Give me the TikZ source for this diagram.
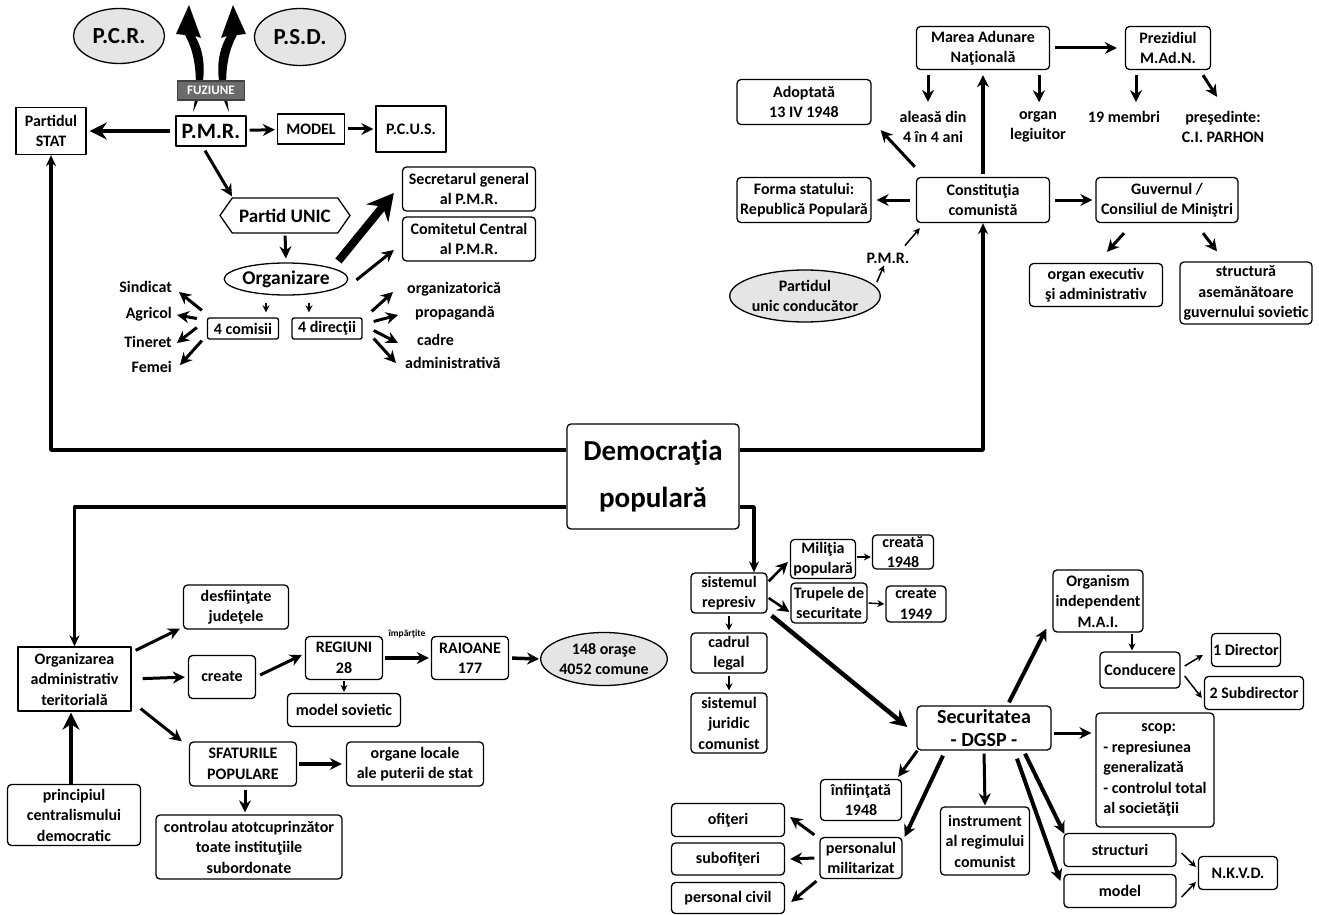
\documentclass[tikz,border=0pt]{standalone}
\usepackage{fontspec}
\setmainfont{Carlito}
\usetikzlibrary{arrows.meta,calc,shapes.geometric,shapes.symbols}
\tikzset{
  lbl/.style={font=\bfseries\fontsize{16}{20.5}\selectfont,align=center,inner sep=1pt},
  box/.style={lbl,draw,line width=1.3pt},
  rbox/.style={box,rounded corners=4pt},
  oval/.style={lbl,draw,ellipse,line width=1.3pt,fill=gray!20,inner sep=0pt},
  sz/.style 2 args={minimum width=#1pt,minimum height=#2pt},
  arr/.style={line width=3pt,-{Stealth[length=12pt,width=12pt]}},
  sarr/.style={line width=1.5pt,-{Stealth[length=7pt,width=7pt]}},
  barr/.style={line width=4.5pt,-{Stealth[length=17pt,width=17pt]}},
  harr/.style={line width=8pt,-{Stealth[length=26pt,width=28pt]}},
  trunk/.style={line width=3.5pt,-{Stealth[length=11pt,width=10pt]}},
}
\begin{document}
\begin{tikzpicture}[x=1pt,y=-1pt,line join=round]
\useasboundingbox (0,0) rectangle (1319,915);

% --- partidul unic
\node[oval,sz={91}{55},font=\bfseries\fontsize{23}{26}\selectfont] (pcr) at (119,36) {P.C.R.};
\node[oval,sz={91}{57},font=\bfseries\fontsize{23}{26}\selectfont] (psd) at (300,37) {P.S.D.};
\fill (193,112) .. controls (207,84) and (207,56) .. (195,36) -- (201,38) -- (189,5) -- (176,34) -- (185,35) .. controls (197,56) and (198,84) .. (193,112) -- cycle;
\fill (229,112) .. controls (215,84) and (215,56) .. (227,36) -- (221,38) -- (233,5) -- (246,34) -- (237,35) .. controls (225,56) and (224,84) .. (229,112) -- cycle;
\node[box,sz={67}{19},fill=black!58,draw=black!75,text=white,font=\bfseries\fontsize{13}{15}\selectfont] (fuz) at (211,90.5) {FUZIUNE};
\node[box,sz={70}{47}] (stat) at (51,131) {Partidul\\STAT};
\node[box,sz={70}{30},font=\bfseries\fontsize{22}{24}\selectfont] (pmr) at (211,131) {P.M.R.};
\node[box,sz={67}{30}] (model) at (311,129) {MODEL};
\node[box,sz={70}{46}] (pcus) at (411,129) {P.C.U.S.};
\node[lbl,draw,line width=1.3pt,signal,signal to=west and east,signal pointer angle=110,sz={130}{35},font=\bfseries\fontsize{19}{22}\selectfont] (unic) at (285,215.5) {Partid UNIC};
\node[lbl,draw,ellipse,line width=1.3pt,inner sep=0pt,sz={120}{32},font=\bfseries\fontsize{19.5}{22}\selectfont] (orgz) at (286,279) {Organizare};
\node[rbox,sz={133}{44}] (secg) at (469,189) {Secretarul general\\al P.M.R.};
\node[rbox,sz={133}{44}] (cc) at (469,239) {Comitetul Central\\al P.M.R.};
\node[box,rounded corners=2pt,sz={71}{21}] (com) at (243,328.5) {4 comisii};
\node[box,rounded corners=2pt,sz={70}{21}] (dir) at (327,328.5) {4 direcţii};
\foreach \t/\y in {Sindicat/287,Agricol/314,Tineret/342,Femei/367}
  \node[lbl,anchor=east] (\t) at (173,\y) {\t};
\foreach \n/\t/\x/\y in {d1/organizatorică/406/289,d2/propagandă/414/313,d3/cadre/416/340,d4/administrativă/404/363}
  \node[lbl,anchor=west] (\n) at (\x,\y) {\t};

\draw[barr,shorten <=5pt,shorten >=3pt] (pmr.west) -- (stat.east);
\draw[arr,shorten <=3pt,shorten >=2pt] (pmr) -- (model);
\draw[arr,shorten <=3pt,shorten >=2pt] (model) -- (pcus);
\draw[arr] ($(pmr.south)+(-6,4)$) -- ($(unic.north)+(-53,-1)$);
\draw[arr,shorten <=2pt,shorten >=4pt] (unic.south) -- (orgz.north);
\draw[harr] ($(orgz.east)+(-10,-18)$) -- ($(secg.west)+(-8,4)$);
\draw[arr] ($(orgz.east)+(8,1)$) -- ($(cc.west)+(-8,11)$);
\draw[sarr] ($(orgz.south)+(-20,7)$) -- ($(com.north)+(23,-5)$);
\draw[sarr] ($(orgz.south)+(23,7)$) -- ($(dir.north)+(-18,-5)$);
\draw[arr] ($(com.north west)+(-5,-7)$) -- ($(Sindicat.east)+(6,5)$);
\draw[arr] ($(com.west)+(-10,-10)$) -- ($(Agricol.east)+(4,1)$);
\draw[arr] ($(com.west)+(-10,-1)$) -- ($(Tineret.east)+(4,1)$);
\draw[arr] ($(com.south west)+(-5,1)$) -- ($(Femei.east)+(7,-2)$);
\draw[arr] ($(dir.north east)+(9,-6)$) -- ($(d1.west)+(-13,3)$);
\draw[arr] ($(dir.east)+(11,-7)$) -- ($(d2.west)+(-16,2)$);
\draw[arr] ($(dir.east)+(11,2)$) -- ($(d3.west)+(-18,3)$);
\draw[arr] ($(dir.east)+(11,10)$) -- ($(d4.west)+(-8,0)$);

% --- constitutia
\node[rbox,sz={133}{43}] (man) at (983,48) {Marea Adunare\\Naţională};
\node[rbox,sz={85}{43}] (prez) at (1168,48) {Prezidiul\\M.Ad.N.};
\node[rbox,sz={134}{45}] (adopt) at (804,102) {Adoptată\\13 IV 1948};
\node[lbl] (ales) at (933,127) {aleasă din\\4 în 4 ani};
\node[lbl] (legi) at (1038,127) {organ\\legiuitor};
\node[lbl] (memb) at (1124,117) {19 membri};
\node[lbl] (pres) at (1223,127) {preşedinte:\\C.I. PARHON};
\node[rbox,sz={133}{45}] (const) at (983,200) {Constituţia\\comunistă};
\node[rbox,sz={134}{45}] (forma) at (804,200) {Forma statului:\\Republică Populară};
\node[rbox,sz={142}{45}] (guv) at (1167,200) {Guvernul /\\Consiliul de Miniştri};
\node[rbox,sz={133}{43}] (exec) at (1096,285) {organ executiv\\şi administrativ};
\node[rbox,sz={132}{62}] (struct) at (1246,293) {structură\\asemănătoare\\guvernului sovietic};
\node[oval,sz={134}{52}] (puc) at (805,296) {Partidul\\unic conducător};
\node[lbl] (pmrb) at (888,258) {P.M.R.};

\draw[arr,shorten <=5pt,shorten >=8pt] (man.east) -- (prez.west);
\draw[arr] ($(man.south)+(-55,5)$) -- ($(ales.north)+(-5,-8)$);
\draw[arr] ($(man.south)+(56,5)$) -- ($(legi.north)+(1,-8)$);
\draw[arr] ($(prez.south)+(-32,5)$) -- ($(memb.north)+(12,-8)$);
\draw[arr] ($(prez.south)+(35,5)$) -- ($(pres.north)+(-6,-13)$);
\draw[arr,line width=4pt,shorten <=3pt,shorten >=5pt] (const.north) -- (man.south);
\draw[arr] ($(const.north west)+(-1,-10)$) -- ($(adopt.south east)+(9,5)$);
\draw[arr,shorten <=6pt,shorten >=5pt] (const.west) -- (forma.east);
\draw[arr,shorten <=5pt,shorten >=3pt] (const.east) -- (guv.west);
\draw[arr] ($(guv.south)+(-43,10)$) -- ($(exec.north)+(11,-11)$);
\draw[arr] ($(guv.south)+(36,10)$) -- ($(struct.north)+(-29,-10)$);
\draw[sarr] ($(puc.east)+(-4,-14)$) -- ($(pmrb.south)+(-4,1)$);
\draw[sarr] ($(pmrb.north)+(17,-6)$) -- ($(const.south west)+(4,5)$);

% --- democratia
\node[rbox,sz={172}{105},font=\bfseries\fontsize{29}{47}\selectfont] (dem) at (653,476.5) {Democraţia\\populară};

% --- organizarea administrativ teritoriala
\node[box,sz={113}{64}] (ter) at (74.5,679) {Organizarea\\administrativ\\teritorială};
\node[rbox,sz={133}{61}] (princ) at (74,815) {principiul\\centralismului\\democratic};
\node[rbox,sz={105}{44}] (desf) at (236,607) {desfiinţate\\judeţele};
\node[rbox,sz={67}{43}] (creat) at (222,677) {create};
\node[rbox,sz={77}{43}] (reg) at (344,658) {REGIUNI\\28};
\node[rbox,sz={113}{33}] (msov) at (344,710) {model sovietic};
\node[rbox,sz={77}{43}] (raio) at (470,658) {RAIOANE\\177};
\node[oval,sz={111}{53}] (oras) at (604,659) {148 oraşe\\4052 comune};
\node[lbl,font=\bfseries\fontsize{9.5}{11}\selectfont] (impt) at (407,634) {împărţite};
\node[rbox,sz={107}{44}] (sfat) at (243,764) {SFATURILE\\POPULARE};
\node[rbox,sz={137}{44}] (orgl) at (415,764) {organe locale\\ale puterii de stat};
\node[rbox,sz={186}{64}] (ctrl) at (249,847) {controlau atotcuprinzător\\toate instituţiile\\subordonate};

\draw[barr,shorten >=1pt] ($(princ.north)+(-3,0)$) -- ($(ter.south)+(-3.5,0)$);
\draw[arr] ($(ter.north east)+(4,4)$) -- ($(desf.south west)+(-3,-1)$);
\draw[arr,shorten <=11pt,shorten >=3pt] (ter.east) -- (creat.west);
\draw[arr] ($(ter.south east)+(9,-3)$) -- ($(sfat.north west)+(-7,0)$);
\draw[arr] ($(creat.east)+(4,-2)$) -- ($(reg.west)+(-3,-3)$);
\draw[arr,line width=3.5pt,shorten <=2pt,shorten >=2pt] (reg.east) -- (raio.west);
\draw[arr,line width=3.5pt,shorten <=3pt,shorten >=1pt] (raio.east) -- (oras.west);
\draw[sarr,shorten <=1pt,shorten >=1pt] (reg.south) -- (msov.north);
\draw[arr,line width=3.5pt,shorten <=2pt,shorten >=4pt] (sfat.east) -- (orgl.west);
\draw[arr] ($(sfat.south)+(2,3)$) -- ($(ctrl.north)+(-4,-2)$);

% --- sistemul represiv
\node[rbox,sz={76}{40}] (rep) at (729,593) {sistemul\\represiv};
\node[rbox,sz={65}{39}] (mil) at (823,559) {Miliţia\\populară};
\node[rbox,sz={61}{34}] (cr48) at (903,552) {creată\\1948};
\node[rbox,sz={76}{40}] (trup) at (829,603) {Trupele de\\securitate};
\node[rbox,sz={60}{36}] (cr49) at (916,604) {create\\1949};
\node[rbox,sz={76}{40}] (cadr) at (729,653) {cadrul\\legal};
\node[rbox,sz={76}{60}] (jur) at (729,723) {sistemul\\juridic\\comunist};
\node[rbox,sz={134}{44},font=\bfseries\fontsize{20}{23}\selectfont] (sec) at (984,728) {Securitatea\\- DGSP -};
\node[rbox,sz={90}{62}] (mai) at (1098,601) {Organism\\independent\\M.A.I.};
\node[rbox,sz={80}{36}] (cond) at (1140,670) {Conducere};
\node[rbox,sz={69}{33}] (dir1) at (1246,650) {1 Director};
\node[rbox,sz={99}{33}] (dir2) at (1254,693) {2 Subdirector};
\node[rbox,sz={118}{114},align=left] (scop) at (1155,770) {\hspace*{38pt}scop:\\- represiunea\\generalizată\\- controlul total\\al societăţii};
\node[rbox,sz={81}{41}] (infi) at (861,800) {înfiinţată\\1948};
\node[rbox,sz={82}{41}] (pers) at (861,858) {personalul\\militarizat};
\node[rbox,sz={113}{33}] (ofi) at (728,820) {ofiţeri};
\node[rbox,sz={113}{32}] (subo) at (728,859) {subofiţeri};
\node[rbox,sz={113}{31}] (civ) at (728,898) {personal civil};
\node[rbox,sz={89}{68}] (instr) at (985,841) {instrument\\al regimului\\comunist};
\node[rbox,sz={112}{33}] (struc) at (1120,850) {structuri};
\node[rbox,sz={112}{33}] (modl) at (1120,891) {model};
\node[rbox,sz={79}{33}] (nkvd) at (1238,873) {N.K.V.D.};

\draw[arr,line width=2.5pt] ($(rep.north east)+(1,9)$) -- ($(mil.west)+(-2,3)$);
\draw[arr,line width=2.5pt] ($(rep.east)+(1,5)$) -- ($(trup.west)+(-1,9)$);
\draw[sarr] ($(mil.east)+(1,-2)$) -- ($(cr48.west)+(-1,5)$);
\draw[sarr,shorten <=1pt,shorten >=1pt] (trup.east) -- (cr49.west);
\draw[sarr,line width=2pt,shorten <=2pt,shorten >=2pt] (rep.south) -- (cadr.north);
\draw[sarr,line width=2pt,shorten <=2pt,shorten >=2pt] (cadr.south) -- (jur.north);
\draw[barr] ($(rep.south east)+(4,2)$) -- ($(sec.west)+(-9,-1)$);
\draw[arr,line width=4pt] ($(sec.north)+(25,-3)$) -- ($(mai.south west)+(-6,-4)$);
\draw[sarr,line width=2pt] ($(mai.south)+(34,1)$) -- ($(cond.north)+(-8,-1)$);
\draw[sarr] ($(cond.east)+(4,-4)$) -- ($(dir1.west)+(-8,5)$);
\draw[sarr] ($(cond.east)+(4,6)$) -- ($(dir2.west)+(-2,5)$);
\draw[arr] ($(sec.east)+(2,5)$) -- ($(scop.west)+(-4,-37)$);
\draw[arr] ($(sec.south west)+(1,0)$) -- ($(infi.north east)+(-4,-2)$);
\draw[arr,line width=4pt] ($(sec.south)+(-41,5)$) -- ($(pers.north east)+(2,0)$);
\draw[arr,shorten <=3pt,shorten >=1pt] (sec.south) -- (instr.north);
\draw[arr,line width=4pt] ($(sec.south)+(41,3)$) -- ($(struc.north west)+(1,1)$);
\draw[arr,line width=4pt] ($(sec.south)+(33,8)$) -- ($(modl.west)+(-3,-10)$);
\draw[arr] ($(pers.north west)+(-5,-2)$) -- ($(ofi.east)+(5,-3)$);
\draw[arr] ($(pers.west)+(-5,0)$) -- ($(subo.east)+(5,0)$);
\draw[arr] ($(pers.south west)+(-3,2)$) -- ($(civ.east)+(6,4)$);
\draw[sarr] ($(struc.east)+(5,3)$) -- ($(nkvd.west)+(-2,-6)$);
\draw[sarr] ($(modl.east)+(5,6)$) -- ($(nkvd.west)+(-2,9)$);

% --- legaturi
\draw[trunk] ($(dem.west)+(0,-26.5)$) -| (stat.south);
\draw[trunk] ($(dem.east)+(0,-26.5)$) -| (const.south);
\draw[trunk] ($(dem.west)+(0,30.5)$) -| (ter.north);
\draw[trunk] ($(dem.east)+(0,30.5)$) -| ($(rep.north)+(25,0)$);
\end{tikzpicture}
\end{document}
